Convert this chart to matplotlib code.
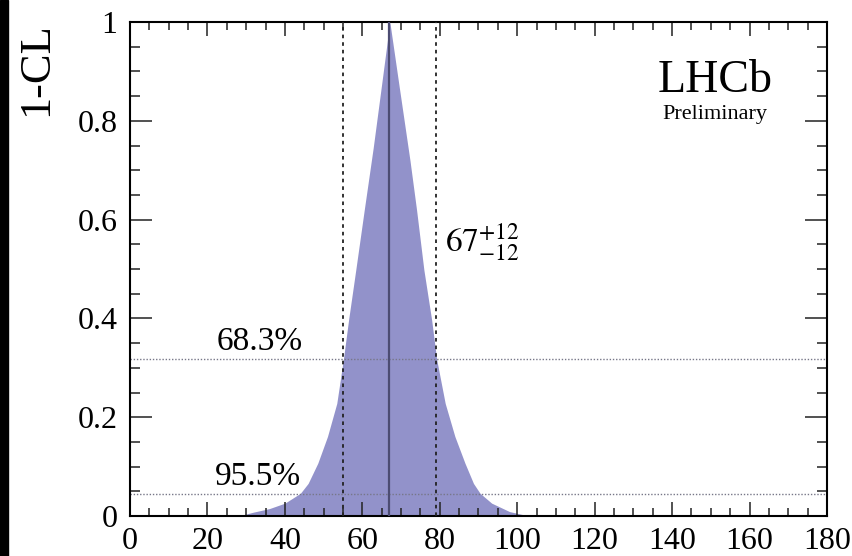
import matplotlib
matplotlib.use("Agg")
import matplotlib.pyplot as plt
from matplotlib.patches import Rectangle
from matplotlib.ticker import MultipleLocator

plt.rcParams['font.family'] = ['Liberation Serif', 'DejaVu Serif']
plt.rcParams['mathtext.fontset'] = 'stix'

# 1-CL scan
gamma = [28, 32, 36, 40, 44, 46, 48.5, 51, 53.4, 55.1, 56.5, 58.3, 60.5, 62.8,
         65, 67.1, 69.5, 72.3, 74, 75.9, 77.9, 79.2, 81.4, 83.9, 86.5, 88.7,
         90.4, 93.4, 98, 103]
one_minus_cl = [0.0, 0.008, 0.015, 0.026, 0.046, 0.066, 0.107, 0.161, 0.228,
                0.317, 0.40, 0.498, 0.62, 0.745, 0.875, 1.0, 0.87, 0.72, 0.62,
                0.498, 0.397, 0.317, 0.228, 0.161, 0.107, 0.066, 0.046, 0.026,
                0.009, 0.0]

central = 67
err_lo = 12
err_hi = 12
cl_levels = [0.317, 0.045]
cl_labels = ['68.3%', '95.5%']
xticks = [0, 20, 40, 60, 80, 100, 120, 140, 160, 180]
yticks = [0, 0.2, 0.4, 0.6, 0.8, 1]
ytick_labels = ['0', '0.2', '0.4', '0.6', '0.8', '1']

fig = plt.figure(figsize=(8.53, 5.56), dpi=100)
fig.patches.append(Rectangle((0, 0), 8 / 853, 1, transform=fig.transFigure,
                             color='black', zorder=-10))
ax = fig.add_axes([130 / 853, 40 / 556, 697 / 853, 494 / 556])

ax.fill_between(gamma, 0, one_minus_cl, color='#9292ca', lw=0, zorder=1)
ax.axvline(central, color='#4c4c72', lw=1.6, zorder=3)
ax.axvline(central - err_lo, color='#222222', lw=1.3, ls=(0, (2, 2.2)), zorder=3)
ax.axvline(central + err_hi, color='#222222', lw=1.3, ls=(0, (2, 2.2)), zorder=3)
for lev in cl_levels:
    ax.axhline(lev, color='#777788', lw=1.0, ls=(0, (1, 1.3)), zorder=2)

ax.text(22.5, 0.336, cl_labels[0], fontsize=24, ha='left', va='baseline')
ax.text(22.0, 0.063, cl_labels[1], fontsize=24, ha='left', va='baseline')
ax.text(81.4, 0.535, r'$67^{+12}_{-12}$', fontsize=24, ha='left', va='baseline')
ax.text(151, 0.858, 'LHCb', fontsize=33, ha='center', va='baseline')
ax.text(151, 0.804, 'Preliminary', fontsize=16, ha='center', va='baseline')

ax.set_xlim(0, 180)
ax.set_ylim(0, 1)
ax.set_xticks(xticks)
ax.set_yticks(yticks)
ax.set_yticklabels(ytick_labels)
ax.xaxis.set_minor_locator(MultipleLocator(5))
ax.yaxis.set_minor_locator(MultipleLocator(0.05))
ax.tick_params(axis='both', which='both', direction='in', top=True, right=True,
               labelsize=23, width=1.1, color='#222222')
ax.tick_params(axis='x', which='major', length=10, pad=8)
ax.tick_params(axis='x', which='minor', length=5.5)
ax.tick_params(axis='y', which='major', length=15.5, pad=9)
ax.tick_params(axis='y', which='minor', length=7.5)
for sp in ax.spines.values():
    sp.set_linewidth(1.5)

fig.text(36 / 853, 1 - 22 / 556, '1-CL', rotation=90, fontsize=32,
         ha='center', va='top')

fig.savefig('out.png', dpi=100)
